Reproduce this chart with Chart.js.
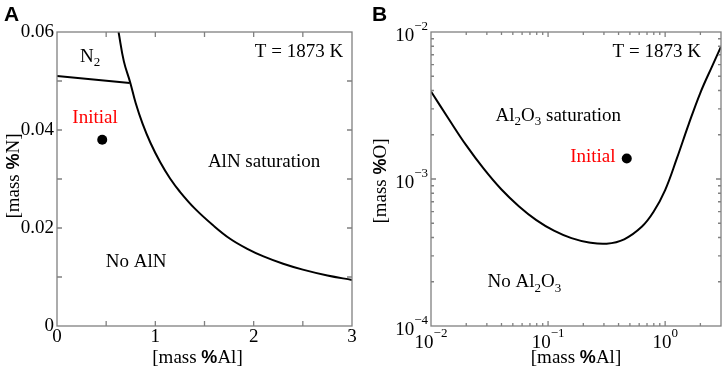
<!DOCTYPE html>
<html>
<head>
<meta charset="utf-8">
<title>AlN and Al2O3 stability at 1873 K</title>
<script src="https://cdn.jsdelivr.net/npm/chart.js"></script>
<style>
  body { margin: 0; background: #fff; }
  .panel { position: absolute; top: 0; width: 363px; height: 377px; }
  #panelA { left: 0; }
  #panelB { left: 363px; }
</style>
</head>
<body>
<div class="panel" id="panelA"><canvas id="chartA"></canvas></div>
<div class="panel" id="panelB"><canvas id="chartB"></canvas></div>
<script>
  // Panel A: AlN saturation line, N2 boundary, initial melt
  const alnAl = [0.626, 0.68, 0.743, 0.80, 0.87, 0.95, 1.05, 1.15, 1.25, 1.40, 1.59, 1.76, 1.93, 2.10, 2.30, 2.50, 2.75, 3.0];
  const alnN  = [0.0600, 0.0540, 0.0498, 0.0455, 0.0413, 0.0374, 0.0334, 0.0301, 0.0274, 0.0240, 0.0205, 0.0178, 0.0158, 0.0142, 0.0127, 0.0115, 0.0103, 0.0094];
  const n2Al = [0, 0.74];
  const n2N  = [0.0510, 0.0496];
  const initAl_A = 0.46;
  const initN_A  = 0.038;

  // Panel B: Al2O3 saturation line, initial melt
  const al2o3Al = [0.01, 0.01413, 0.01995, 0.02818, 0.03981, 0.05623, 0.07943, 0.1122, 0.1585, 0.2239, 0.3162, 0.4467, 0.631, 0.794, 1.0, 1.259, 1.585, 1.995, 2.512, 3.0];
  const al2o3O  = [0.003936, 0.00257, 0.001698, 0.001175, 0.000851, 0.000653, 0.000525, 0.000445, 0.000396, 0.00037, 0.000363, 0.000389, 0.000473, 0.000596, 0.000841, 0.00138, 0.002344, 0.003846, 0.005821, 0.007943];
  const initAl_B = 0.47;
  const initO_B  = 0.00138;

  // tick values and labels
  const xTicksA = [0, 1, 2, 3];
  const xLabelsA = ['0', '1', '2', '3'];
  const yTicksA = [0, 0.02, 0.04, 0.06];
  const yLabelsA = ['0', '0.02', '0.04', '0.06'];
  const xTicksB = [0.01, 0.1, 1];
  const xLabelsB = [['10', '\u22122'], ['10', '\u22121'], ['10', '0']];
  const yTicksB = [1e-4, 1e-3, 1e-2];
  const yLabelsB = [['10', '\u22124'], ['10', '\u22123'], ['10', '\u22122']];

  const SERIF = "'Liberation Serif', 'Times New Roman', serif";
  const SANS = "'Liberation Sans', Arial, sans-serif";

  function logMinor(lo, hi) {
    const out = [];
    for (let d = lo; d < hi; d *= 10) {
      for (let m = 2; m <= 9; m++) if (d * m <= hi * 1.0001) out.push(d * m);
    }
    return out;
  }

  function fontOf(p) {
    if (p.sans) return 'bold 18px ' + SANS;
    return (p.small ? '13px ' : '19px ') + SERIF;
  }

  function drawRich(ctx, pieces, x, y, align) {
    const widths = pieces.map(p => { ctx.font = fontOf(p); return ctx.measureText(p.t).width; });
    const total = widths.reduce((a, b) => a + b, 0);
    let cx = align === 'center' ? x - total / 2 : align === 'right' ? x - total : x;
    ctx.textAlign = 'left';
    ctx.textBaseline = 'middle';
    pieces.forEach((p, i) => {
      ctx.font = fontOf(p);
      ctx.fillStyle = p.color || '#000';
      ctx.fillText(p.t, cx, y + (p.dy || 0));
      cx += widths[i];
    });
  }
  const sub = t => ({ t, small: true, dy: 6 });
  const pow = (b, e, up) => [{ t: b, dy: up[0] }, { t: e, small: true, dy: up[1] }];

  // box, inward ticks, annotations and axis titles
  const framePlugin = {
    id: 'frame',
    afterDraw(chart, args, o) {
      const ctx = chart.ctx, a = chart.chartArea;
      const xs = chart.scales.x, ys = chart.scales.y;
      ctx.save();
      ctx.strokeStyle = '#808080';
      ctx.lineWidth = 1.3;
      ctx.strokeRect(a.left, a.top, a.right - a.left, a.bottom - a.top);
      ctx.beginPath();
      const tick = (vals, len) => {
        vals.forEach(v => {
          const px = xs.getPixelForValue(v);
          if (px <= a.left + 1 || px >= a.right - 1) return;
          ctx.moveTo(px, a.bottom); ctx.lineTo(px, a.bottom - len);
          ctx.moveTo(px, a.top); ctx.lineTo(px, a.top + len);
        });
      };
      const tickY = (vals, len) => {
        vals.forEach(v => {
          const py = ys.getPixelForValue(v);
          if (py <= a.top + 1 || py >= a.bottom - 1) return;
          ctx.moveTo(a.left, py); ctx.lineTo(a.left + len, py);
          ctx.moveTo(a.right, py); ctx.lineTo(a.right - len, py);
        });
      };
      tick(o.xMajor, 5); tick(o.xMinor, o.minorLen);
      tickY(o.yMajor, 5); tickY(o.yMinor, o.minorLen);
      ctx.stroke();

      // power-of-ten tick labels on log axes
      if (o.powLabels) {
        o.xMajor.forEach((v, i) => {
          const [b, e] = o.powLabels.x[i];
          drawRich(ctx, pow(b, e, [0, -9]), xs.getPixelForValue(v), a.bottom + 17, 'center');
        });
        o.yMajor.forEach((v, i) => {
          const [b, e] = o.powLabels.y[i];
          drawRich(ctx, pow(b, e, [4, -5]), a.left - 3, ys.getPixelForValue(v), 'right');
        });
      }

      o.texts.forEach(t => {
        drawRich(ctx, t.pieces, xs.getPixelForValue(t.x), ys.getPixelForValue(t.y), t.align);
      });

      // axis titles
      drawRich(ctx, o.xTitle, (a.left + a.right) / 2 + o.xTitleDx, 358, 'center');
      ctx.save();
      ctx.translate(o.yTitleX, (a.top + a.bottom) / 2 + o.yTitleDy);
      ctx.rotate(-Math.PI / 2);
      drawRich(ctx, o.yTitle, 0, 0, 'center');
      ctx.restore();

      // panel letter
      ctx.font = 'bold 21px ' + SANS;
      ctx.fillStyle = '#000';
      ctx.textAlign = 'left';
      ctx.textBaseline = 'middle';
      ctx.fillText(o.letter, o.letterX, 15);
      ctx.restore();
    }
  };

  function axis(type, min, max, ticks, labels, isX, size) {
    return {
      type, min, max,
      grid: { display: false, drawTicks: false },
      border: { display: false },
      afterBuildTicks: s => { s.ticks = ticks.map(v => ({ value: v })); },
      afterFit: s => { if (isX) s.height = size; else s.width = size; },
      ticks: {
        display: typeof labels[0] === 'string',
        autoSkip: false, maxRotation: 0, color: '#000',
        padding: isX ? 0 : 3,
        font: { family: SERIF, size: 19 },
        callback: (v, i) => labels[i]
      }
    };
  }

  const line = (xs, ys) => ({
    type: 'scatter', showLine: true, pointRadius: 0, borderColor: '#000', borderWidth: 2,
    tension: 0.4,
    data: xs.map((x, i) => ({ x, y: ys[i] }))
  });
  const dot = (x, y) => ({
    type: 'scatter', pointRadius: 5, pointBackgroundColor: '#000', pointBorderWidth: 0,
    data: [{ x, y }]
  });

  const base = {
    responsive: true, maintainAspectRatio: false, animation: false,
    events: []
  };

  new Chart(document.getElementById('chartA'), {
    type: 'scatter',
    data: { datasets: [line(alnAl, alnN), line(n2Al, n2N), dot(initAl_A, initN_A)] },
    options: Object.assign({}, base, {
      layout: { padding: { left: 0, top: 32, right: 11, bottom: 0 } },
      scales: {
        x: axis('linear', 0, 3, xTicksA, xLabelsA, true, 51),
        y: axis('linear', 0, 0.06, yTicksA, yLabelsA, false, 57)
      },
      plugins: {
        legend: { display: false }, tooltip: { enabled: false },
        frame: {
          xMajor: xTicksA, xMinor: [0.5, 1.5, 2.5], yMajor: yTicksA, yMinor: [0.01, 0.03, 0.05], minorLen: 5,
          letter: 'A', letterX: 4,
          xTitle: [{ t: '[mass ' }, { t: '%', sans: true }, { t: 'Al]' }], xTitleDx: -7,
          yTitle: [{ t: '[mass ' }, { t: '%', sans: true }, { t: 'N]' }], yTitleX: 14, yTitleDy: -3,
          texts: [
            { x: 2.91, y: 0.0559, align: 'right', pieces: [{ t: 'T = 1873 K' }] },
            { x: 0.336, y: 0.0549, align: 'center', pieces: [{ t: 'N' }, sub('2')] },
            { x: 0.387, y: 0.04245, align: 'center', pieces: [{ t: 'Initial', color: '#ff0000' }] },
            { x: 2.106, y: 0.0335, align: 'center', pieces: [{ t: 'AlN saturation' }] },
            { x: 0.804, y: 0.0131, align: 'center', pieces: [{ t: 'No AlN' }] }
          ]
        }
      }
    }),
    plugins: [framePlugin]
  });

  new Chart(document.getElementById('chartB'), {
    type: 'scatter',
    data: { datasets: [line(al2o3Al, al2o3O), dot(initAl_B, initO_B)] },
    options: Object.assign({}, base, {
      layout: { padding: { left: 0, top: 32, right: 2, bottom: 0 } },
      scales: {
        x: axis('logarithmic', 0.01, 3, xTicksB, xLabelsB, true, 51),
        y: axis('logarithmic', 1e-4, 1e-2, yTicksB, yLabelsB, false, 68)
      },
      plugins: {
        legend: { display: false }, tooltip: { enabled: false },
        frame: {
          xMajor: xTicksB, xMinor: logMinor(0.01, 3), yMajor: yTicksB, yMinor: logMinor(1e-4, 1e-2), minorLen: 3,
          powLabels: { x: xLabelsB, y: yLabelsB },
          letter: 'B', letterX: 9,
          xTitle: [{ t: '[mass ' }, { t: '%', sans: true }, { t: 'Al]' }], xTitleDx: 0,
          yTitle: [{ t: '[mass ' }, { t: '%', sans: true }, { t: 'O]' }], yTitleX: 18, yTitleDy: 2,
          texts: [
            { x: 2.02, y: 0.00731, align: 'right', pieces: [{ t: 'T = 1873 K' }] },
            { x: 0.0356, y: 0.00269, align: 'left', pieces: [{ t: 'Al' }, sub('2'), { t: 'O' }, sub('3'), { t: ' saturation' }] },
            { x: 0.377, y: 0.001416, align: 'right', pieces: [{ t: 'Initial', color: '#ff0000' }] },
            { x: 0.0304, y: 0.000198, align: 'left', pieces: [{ t: 'No Al' }, sub('2'), { t: 'O' }, sub('3')] }
          ]
        }
      }
    }),
    plugins: [framePlugin]
  });
</script>
</body>
</html>
